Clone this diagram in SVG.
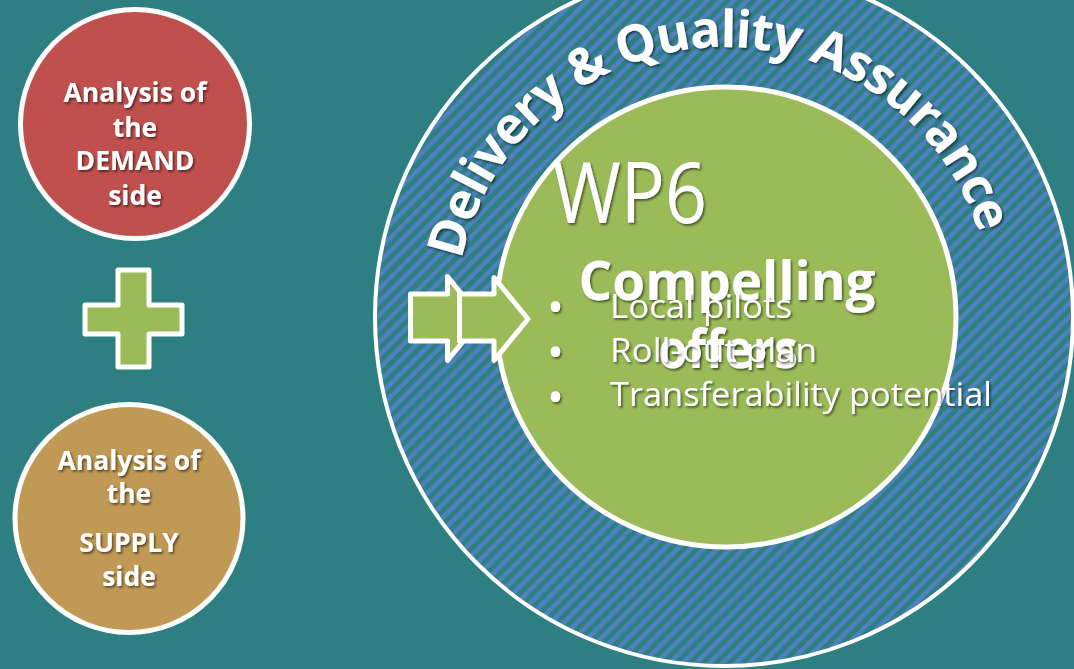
<svg xmlns="http://www.w3.org/2000/svg" width="1074" height="669" viewBox="0 0 1074 669">
  <defs>
    <style>
      .bg { fill: #2D7F81; }
      .node-circle { stroke: #FFFFFF; stroke-width: 5; }
      .label { font-family: "Open Sans", "Liberation Sans", sans-serif; fill: #FFFFFF; }
      .bold { font-weight: 700; }
      .side-label { font-size: 26.5px; text-anchor: middle; }
      .shape { fill: #9BBB59; stroke: #FFFFFF; stroke-width: 5; stroke-linejoin: round; }
    </style>
    <!-- diagonal blue hatching for the quality-assurance ring -->
    <pattern id="hatch" patternUnits="userSpaceOnUse" width="9.4" height="9.4" patternTransform="rotate(45)">
      <rect width="9.4" height="9.4" fill="#2D7F81"/>
      <rect width="4.6" height="9.4" fill="#4F81BD"/>
    </pattern>
    <filter id="shadow" x="-10%" y="-10%" width="120%" height="130%">
      <feDropShadow dx="1.5" dy="1.8" stdDeviation="1.1" flood-color="#000000" flood-opacity="0.55"/>
    </filter>
    <!-- baseline arc for the ring caption -->
    <path id="ringArc" d="M500.1,462.4 A268,268 0 1 1 961.9,438.2" fill="none"/>
  </defs>

  <rect class="bg" x="0" y="0" width="1074" height="669"/>

  <!-- demand-side analysis -->
  <g id="demand">
    <circle class="node-circle" cx="135" cy="124" r="114.5" fill="#C0504D"/>
    <g class="label bold side-label" filter="url(#shadow)">
      <text x="135" y="102">Analysis of</text>
      <text x="135" y="137">the</text>
      <text x="135" y="170">DEMAND</text>
      <text x="135" y="205">side</text>
    </g>
  </g>

  <!-- plus sign -->
  <g id="plus">
    <path class="shape" d="M118,270 H149 V305 H182 V334 H149 V367 H118 V334 H85 V305 H118 Z"/>
  </g>

  <!-- supply-side analysis -->
  <g id="supply">
    <circle class="node-circle" cx="129" cy="518.5" r="114" fill="#C09A54"/>
    <g class="label bold side-label" filter="url(#shadow)">
      <text x="129" y="470">Analysis of</text>
      <text x="129" y="503">the</text>
      <text x="129" y="552">SUPPLY</text>
      <text x="129" y="586">side</text>
    </g>
  </g>

  <!-- delivery & quality assurance ring -->
  <g id="quality-ring">
    <circle cx="724" cy="317" r="349" fill="url(#hatch)" stroke="#FFFFFF" stroke-width="4"/>
    <text class="label bold" font-size="51" letter-spacing="-1.3" filter="url(#shadow)">
      <textPath href="#ringArc" startOffset="50%" text-anchor="middle">Delivery &amp; Quality Assurance</textPath>
    </text>
  </g>

  <!-- WP6 core -->
  <g id="wp6">
    <circle cx="726" cy="317" r="230" fill="#9BBB59" stroke="#FFFFFF" stroke-width="5"/>
    <g class="label" filter="url(#shadow)">
      <text x="553" y="223" font-size="84" textLength="154" lengthAdjust="spacingAndGlyphs">WP6</text>
      <text class="bold" x="727" y="300" font-size="54" text-anchor="middle" textLength="297" lengthAdjust="spacingAndGlyphs">Compelling</text>
      <text class="bold" x="728" y="368" font-size="54" text-anchor="middle" textLength="140" lengthAdjust="spacingAndGlyphs">offers</text>
    </g>
    <g class="label" filter="url(#shadow)">
      <text x="547" y="322.5" font-size="45">•</text>
      <text x="547" y="367.5" font-size="45">•</text>
      <text x="547" y="412.5" font-size="45">•</text>
      <text x="610" y="318" font-size="33" textLength="182" lengthAdjust="spacingAndGlyphs">Local pilots</text>
      <text x="610" y="362" font-size="33" textLength="207" lengthAdjust="spacingAndGlyphs">Roll-out plan</text>
      <text x="610" y="406" font-size="33" textLength="382" lengthAdjust="spacingAndGlyphs">Transferability potential</text>
    </g>
  </g>

  <!-- block arrows feeding into WP6 -->
  <g id="connectors">
    <path class="shape" d="M410.5,294 H447.5 V276.5 L481.5,319 L447.5,360.5 V341 H410.5 Z"/>
    <path class="shape" d="M459.5,294 H494 V277.5 L528,319 L494,360.5 V341 H459.5 Z"/>
  </g>
</svg>
